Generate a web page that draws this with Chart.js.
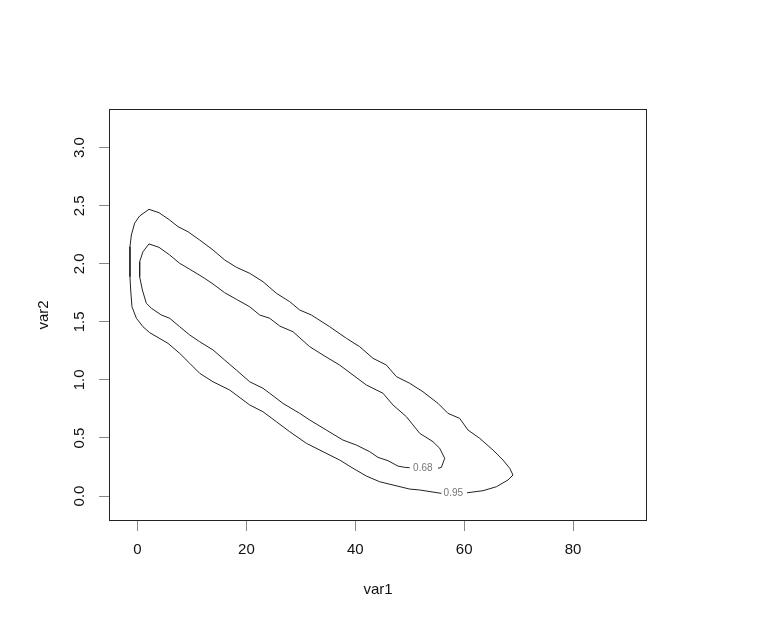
<!DOCTYPE html>
<html>
<head>
<meta charset="utf-8">
<title>contour var1 var2</title>
<script src="https://cdn.jsdelivr.net/npm/chart.js@4/dist/chart.umd.min.js"></script>
<style>
  body { margin: 0; background: #fff; }
  canvas { display: block; }
</style>
</head>
<body>
<canvas id="my-chart" width="757" height="630"></canvas>
<script>
// contour levels and where their labels sit on the line
var levelNames = ['0.68', '0.95'];
var labelX = [52.4, 58.0];
var labelY = [0.24, 0.025];

// tick values
var xTicks = [0, 20, 40, 60, 80];
var yTicks = [0, 0.5, 1, 1.5, 2, 2.5, 3];

// 0.68 contour (var1, var2), starts/ends at the label gap
var inner1 = [55.19, 55.81, 56.42, 55.50, 54.27, 51.83, 50.60, 49.39, 46.92, 45.09, 42.04, 39.58, 37.13, 34.07, 31.63, 28.56,
              26.12, 24.28, 22.44, 20.61, 18.16, 16.01, 13.87, 12.03, 9.59, 7.75, 5.91, 3.95, 2.11, 1.01, 0.40, 0.40,
              0.90, 1.63, 2.55, 4.39, 5.91, 7.75, 9.59, 11.42, 13.87, 16.01, 18.16, 20.61, 23.05, 24.28, 26.72, 29.79,
              31.63, 34.69, 37.74, 40.20, 42.64, 44.17, 46.01, 47.84, 49.07, 49.99];
var inner2 = [0.239, 0.247, 0.325, 0.411, 0.468, 0.540, 0.612, 0.683, 0.784, 0.885, 0.956, 1.042, 1.128, 1.214, 1.286, 1.415,
              1.464, 1.531, 1.559, 1.630, 1.694, 1.751, 1.826, 1.884, 1.953, 2.004, 2.076, 2.142, 2.171, 2.104, 2.018, 1.889,
              1.774, 1.660, 1.617, 1.559, 1.531, 1.458, 1.387, 1.329, 1.258, 1.171, 1.085, 0.984, 0.928, 0.885, 0.798, 0.712,
              0.655, 0.568, 0.482, 0.439, 0.382, 0.333, 0.304, 0.258, 0.247, 0.244];

// 0.95 contour
var outer1 = [60.51, 63.45, 65.91, 68.04, 68.96, 68.36, 67.13, 65.29, 62.85, 60.70, 59.17, 57.02, 55.19, 52.43, 49.99, 47.55,
              45.71, 43.25, 40.81, 38.37, 35.30, 31.94, 29.79, 27.95, 25.51, 23.05, 20.61, 18.16, 16.01, 13.87, 11.42, 9.27,
              7.44, 5.91, 3.95, 2.11, 0.40, -0.51, -1.12, -1.38, -1.38, -1.25, -1.01, -0.20, 1.01, 2.24, 5.60, 7.75,
              9.59, 11.42, 13.87, 16.93, 20.61, 23.05, 25.51, 27.95, 31.02, 34.07, 37.13, 39.58, 42.04, 44.48, 46.92, 49.99,
              51.83, 55.81];
var outer2 = [0.028, 0.046, 0.080, 0.138, 0.181, 0.239, 0.310, 0.396, 0.497, 0.568, 0.669, 0.712, 0.798, 0.898, 0.971, 1.028,
              1.128, 1.186, 1.286, 1.358, 1.458, 1.559, 1.602, 1.674, 1.746, 1.846, 1.918, 1.970, 2.033, 2.119, 2.205, 2.276,
              2.320, 2.377, 2.440, 2.469, 2.412, 2.351, 2.248, 2.147, 1.889, 1.774, 1.630, 1.531, 1.458, 1.407, 1.315, 1.229,
              1.143, 1.057, 0.984, 0.913, 0.784, 0.726, 0.640, 0.554, 0.454, 0.382, 0.310, 0.239, 0.172, 0.123, 0.095, 0.060,
              0.052, 0.023];

function toPoints(xs, ys) {
    return xs.map(function(x, i){ return {x: x, y: ys[i]}; });
}

var fontFam = '"Liberation Sans", Arial, Helvetica, sans-serif';

// box round the plot, rotated y labels, contour labels
var extras = {
    id: 'extras',
    afterDraw: function(chart) {
        var ctx = chart.ctx;
        var a = chart.chartArea;
        var xs = chart.scales.x, ys = chart.scales.y;
        ctx.save();
        ctx.strokeStyle = '#222';
        ctx.lineWidth = 1;
        ctx.strokeRect(a.left + 0.5, a.top + 0.5, a.right - a.left - 1, a.bottom - a.top - 1);

        // y tick labels, read bottom to top like R
        ctx.fillStyle = '#111';
        ctx.font = '15px ' + fontFam;
        ctx.textAlign = 'center';
        ctx.textBaseline = 'middle';
        yTicks.forEach(function(v){
            ctx.save();
            ctx.translate(80, ys.getPixelForValue(v));
            ctx.rotate(-Math.PI / 2);
            ctx.fillText(v.toFixed(1), 0, 0);
            ctx.restore();
        });

        // contour level labels
        ctx.fillStyle = '#777';
        ctx.font = '10px ' + fontFam;
        levelNames.forEach(function(t, i){
            ctx.fillText(t, xs.getPixelForValue(labelX[i]), ys.getPixelForValue(labelY[i]) + 0.5);
        });
        ctx.restore();
    }
};

var ctx = document.getElementById('my-chart').getContext('2d');
var chart = new Chart(ctx, {
    type: 'scatter',
    data: {
        datasets: [{
            label: levelNames[0],
            data: toPoints(inner1, inner2),
            showLine: true,
            borderColor: '#222',
            borderWidth: 1,
            pointRadius: 0,
            tension: 0
        }, {
            label: levelNames[1],
            data: toPoints(outer1, outer2),
            showLine: true,
            borderColor: '#222',
            borderWidth: 1,
            pointRadius: 0,
            tension: 0
        }]
    },
    options: {
        responsive: false,
        animation: false,
        layout: { padding: { top: 109, right: 110, left: 0, bottom: 0 } },
        plugins: {
            legend: { display: false },
            tooltip: { enabled: false }
        },
        scales: {
            x: {
                type: 'linear',
                min: -5.23,
                max: 93.57,
                afterBuildTicks: function(scale){ scale.ticks = xTicks.map(function(v){ return {value: v}; }); },
                afterFit: function(scale){ scale.height = 109; },
                border: { display: false },
                grid: { drawOnChartArea: false, drawTicks: true, tickLength: 10, color: '#888' },
                ticks: {
                    padding: 10,
                    color: '#111',
                    font: { family: fontFam, size: 15 },
                    maxRotation: 0,
                    autoSkip: false
                },
                title: {
                    display: true,
                    text: 'var1',
                    color: '#111',
                    font: { family: fontFam, size: 15 },
                    padding: { top: 0, bottom: 31 }
                }
            },
            y: {
                type: 'linear',
                min: -0.215,
                max: 3.333,
                afterBuildTicks: function(scale){ scale.ticks = yTicks.map(function(v){ return {value: v}; }); },
                afterFit: function(scale){ scale.width = 109; },
                border: { display: false },
                grid: { drawOnChartArea: false, drawTicks: true, tickLength: 10, color: '#888' },
                ticks: { display: false },
                title: {
                    display: true,
                    text: 'var2',
                    color: '#111',
                    font: { family: fontFam, size: 15 },
                    padding: { top: 35, bottom: 0 }
                }
            }
        }
    },
    plugins: [extras]
});
</script>
</body>
</html>
